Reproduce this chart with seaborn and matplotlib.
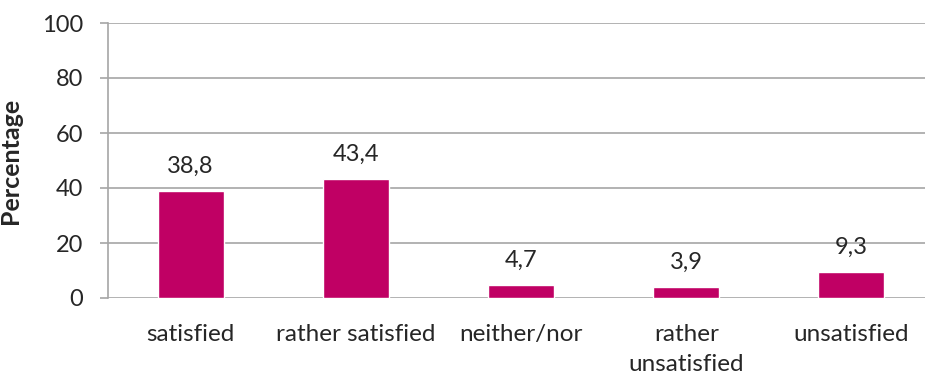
import matplotlib
matplotlib.use("Agg")
import matplotlib.pyplot as plt
import seaborn as sns
import pandas as pd

categories = ["satisfied", "rather satisfied", "neither/nor", "rather\nunsatisfied", "unsatisfied"]
values = [38.8, 43.4, 4.7, 3.9, 9.3]
value_labels = ["38,8", "43,4", "4,7", "3,9", "9,3"]
y_ticks = [0, 20, 40, 60, 80, 100]

sns.set_theme(style="white")
plt.rcParams["font.family"] = ["Lato", "DejaVu Sans"]

df = pd.DataFrame({"category": categories, "value": values})

W, H = 925, 376
fig = plt.figure(figsize=(W / 100, H / 100), dpi=100)
ax = fig.add_axes([108 / W, 78 / H, 826 / W, 275 / H])

bar_color = "#C00064"
grid_color = "#A6A6A6"
text_color = "#262626"

sns.barplot(data=df, x="category", y="value", color=bar_color, width=0.4,
            saturation=1, ax=ax, zorder=3)

ax.set_xlim(-0.5, 4.5)
ax.set_ylim(0, 100)
ax.set_yticks(y_ticks)
ax.set_yticklabels([str(t) for t in y_ticks])
for t in y_ticks:
    ax.axhline(t, color=grid_color, lw=1.2, zorder=1)

# value annotations above each bar
for i, (v, lab) in enumerate(zip(values, value_labels)):
    ax.text(i, v + 6.6, lab, ha="center", va="baseline", fontsize=17, color=text_color)

for s in ["top", "right", "bottom"]:
    ax.spines[s].set_visible(False)
ax.spines["left"].set_color(grid_color)
ax.spines["left"].set_linewidth(1.2)

ax.tick_params(axis="y", which="major", length=6, width=1.2, color=grid_color,
               labelsize=17, labelcolor=text_color, pad=12, left=True)
ax.tick_params(axis="x", length=0, labelsize=17.5, labelcolor=text_color, pad=19)
for lab in ax.get_xticklabels():
    lab.set_linespacing(1.5)

ax.set_xlabel("")
ax.set_ylabel("Percentage", fontsize=18, fontweight="bold", color=text_color)
ax.yaxis.set_label_coords(-(108 - 22) / 826, 0.5)

fig.savefig("out.png", dpi=100)
